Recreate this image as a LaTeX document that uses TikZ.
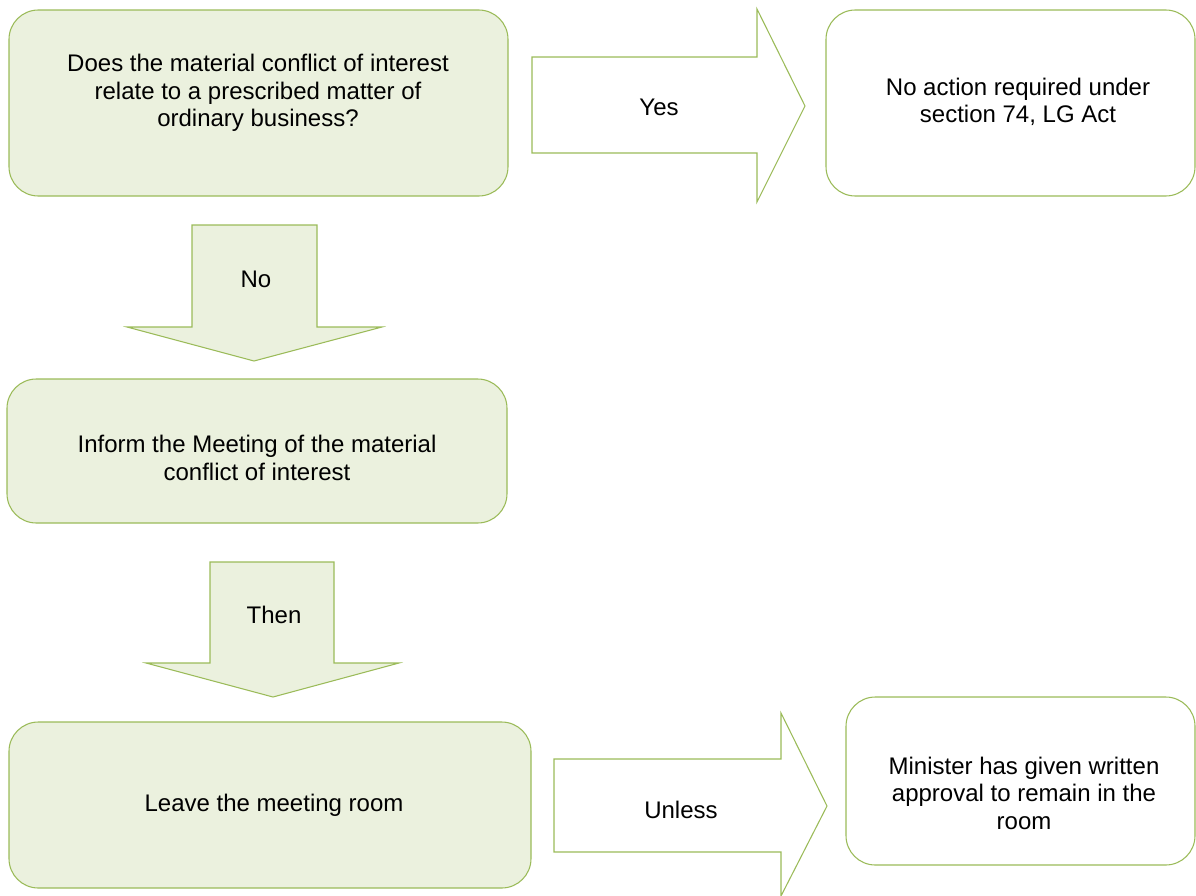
\documentclass[tikz,border=0pt]{standalone}
\usepackage{fontspec}
\setmainfont{Liberation Sans}
\definecolor{boxfill}{HTML}{EBF1DE}
\definecolor{boxline}{HTML}{9BBB59}

\begin{document}
\begin{tikzpicture}[x=0.75pt,y=-0.75pt,
    box/.style={draw=boxline, line width=0.8pt, rounded corners=22pt, fill=boxfill},
    whitebox/.style={box, fill=white},
    pfeil/.style={draw=boxline, line width=0.8pt, fill=boxfill, line join=miter},
    txt/.style={align=center, font=\fontsize{18}{20.6}\selectfont, inner sep=0pt},
]

\useasboundingbox (0,0) rectangle (1196,896);

% boxes
\draw [box] (9,10) rectangle (508,196);
\draw [whitebox] (826,10) rectangle (1195,196);
\draw [box] (7,379) rectangle (507,523);
\draw [box] (9,722) rectangle (531,888);
\draw [whitebox] (846,697) rectangle (1195,865);

% block arrows
\draw [pfeil, fill=white] (532,57) -- (757,57) -- (757,9) -- (805,106) -- (757,202) -- (757,153) -- (532,153) -- cycle;
\draw [pfeil] (192,225) -- (317,225) -- (317,327) -- (382,327) -- (254,361) -- (127,327) -- (192,327) -- cycle;
\draw [pfeil] (210,562) -- (334,562) -- (334,663) -- (399,663) -- (273,697) -- (146,663) -- (210,663) -- cycle;
\draw [pfeil, fill=white] (554,759) -- (781,759) -- (781,713) -- (827,806) -- (781,896) -- (781,852) -- (554,852) -- cycle;

% texts
\node [txt] (question) at (258,93) {Does the material conflict of interest\\relate to a prescribed matter of\\ordinary business?};
\node [txt] (noaction) at (1018,102) {No action required under\\section 74, LG Act};
\node [txt] (inform) at (257,458) {Inform the Meeting of the material\\conflict of interest};
\node [txt] (leave) at (274,805) {Leave the meeting room};
\node [txt] (approval) at (1024,793) {Minister has given written\\approval to remain in the\\room};

\node [txt] (yes) at (659,107) {Yes};
\node [txt] (no) at (256,279) {No};
\node [txt] (then) at (274,615) {Then};
\node [txt] (unless) at (681,810) {Unless};

\end{tikzpicture}
\end{document}
